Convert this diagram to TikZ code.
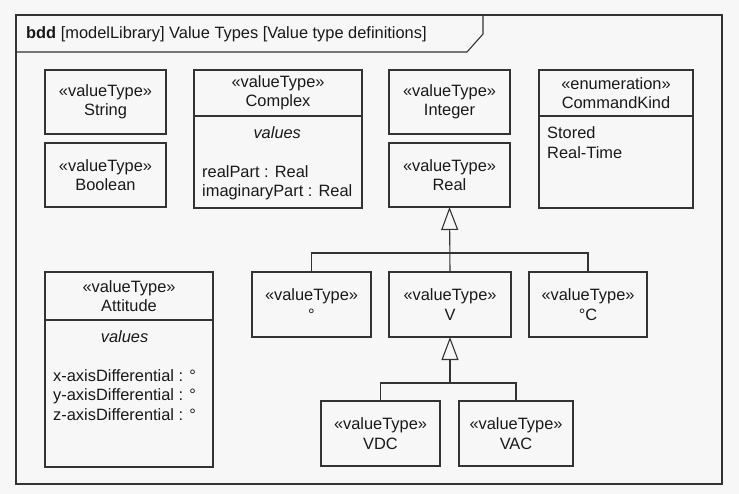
\documentclass[tikz,border=0pt]{standalone}
\usepackage{fontspec}
\setmainfont{Liberation Sans}
\usetikzlibrary{arrows.meta,positioning}
\newcommand{\umlfont}{\fontsize{16.4}{19.5}\selectfont}
\tikzset{
  blk/.style={draw=black!80,line width=1.1pt,align=center,inner sep=3pt,
    outer sep=0pt,text=black!90,font=\umlfont},
  vtype/.style={blk,minimum height=64pt},
  head/.style={blk,minimum height=46pt},
  part/.style={blk,anchor=north},
  list/.style={inner sep=0pt,anchor=north west,text=black!90,font=\umlfont},
  tree/.style={draw=black!80,line width=1.1pt},
  gen/.style={tree,-{Triangle[open,length=23pt,width=17pt]}}
}

\begin{document}
\begin{tikzpicture}[x=1pt,y=1pt]
\useasboundingbox (0,0) rectangle (739,-494);
\fill[black!3] (0,0) rectangle (739,-494);
% frame and its name tab
\draw[tree] (16,-15) rectangle (722,-484);
\draw[tree] (16,-52) -- (467,-52) -- (483,-34) -- (483,-15);
\node[list,anchor=west] (title) at (26,-34) {\textbf{bdd} [modelLibrary] Value Types [Value type definitions]};
% primitive value types
\node[vtype,minimum width=121pt] (string) at (105.5,-102) {«valueType»\\String};
\node[vtype,minimum width=121pt,below=9pt of string] (boolean) {«valueType»\\Boolean};
\node[vtype,minimum width=121pt] (integer) at (449.5,-102) {«valueType»\\Integer};
\node[vtype,minimum width=121pt,below=9pt of integer] (real) {«valueType»\\Real};
% structured value types
\node[head,minimum width=168pt] (cplx) at (278,-93) {«valueType»\\Complex};
\node[part,minimum width=168pt,minimum height=92pt] (cplx-v) at (cplx.south) {};
\node[list] (cplx-l) at ([shift={(8pt,-8.5pt)}]cplx-v.north west)
  {\begin{tabular}{@{}l@{}}\multicolumn{1}{c}{\textit{values}}\\ \\realPart : Real\\imaginaryPart : Real\end{tabular}};
\node[head,minimum width=154pt] (cmd) at (616,-93) {«enumeration»\\CommandKind};
\node[part,minimum width=154pt,minimum height=92pt] (cmd-v) at (cmd.south) {};
\node[list] (cmd-l) at ([shift={(8pt,-9pt)}]cmd-v.north west)
  {\begin{tabular}{@{}l@{}}Stored\\Real-Time\end{tabular}};
\node[head,minimum width=168pt,minimum height=48pt] (att) at (129,-296) {«valueType»\\Attitude};
\node[part,minimum width=168pt,minimum height=147pt] (att-v) at (att.south) {};
\node[list] (att-l) at ([shift={(8pt,-8.5pt)}]att-v.north west)
  {\begin{tabular}{@{}l@{}}\multicolumn{1}{c}{\textit{values}}\\ \\x-axisDifferential : °\\y-axisDifferential : °\\z-axisDifferential : °\end{tabular}};
% units
\node[vtype,minimum width=122pt,minimum height=65pt] (v) at (450,-304.5) {«valueType»\\V};
\node[vtype,minimum width=119pt,minimum height=65pt,left=18pt of v] (deg) {«valueType»\\°};
\node[vtype,minimum width=118pt,minimum height=65pt,right=18pt of v] (degc) {«valueType»\\°C};
\node[vtype,minimum width=119pt,minimum height=65pt] (vdc) at (380.5,-433.5) {«valueType»\\VDC};
\node[vtype,minimum width=114pt,minimum height=65pt,right=19pt of vdc] (vac) {«valueType»\\VAC};
% generalizations
\coordinate (bus1) at (450,-253);
\coordinate (bus2) at (450,-383);
\draw[gen] (v.north) -- (real.south);
\draw[tree] (deg.north) |- (bus1) -| (degc.north);
\draw[gen] (bus2) -- (v.south);
\draw[tree] (vdc.north) |- (bus2) -| (vac.north);
\end{tikzpicture}
\end{document}
